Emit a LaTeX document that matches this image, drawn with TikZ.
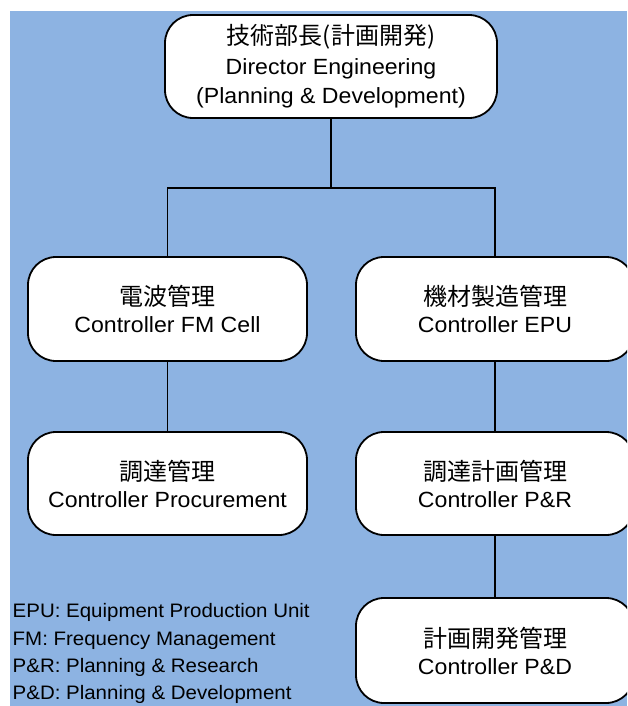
\documentclass[tikz,border=0pt]{standalone}
\usepackage{fontspec}
\setmainfont{Liberation Sans}[FakeStretch=1.05]
\newfontfamily\jp{Noto Sans CJK JP}
\newcommand{\jtext}[1]{{\jp\fontsize{24}{27}\selectfont #1}}
\definecolor{bgblue}{RGB}{141,179,226}
\begin{document}
\begin{tikzpicture}[x=1pt,y=-1pt,
  box/.style={draw=black, line width=1.8pt, fill=white, rounded corners=28pt,
    inner sep=0pt, align=center, font=\fontsize{22}{27}\selectfont},
  link/.style={draw=black, line width=1.4pt},
  legend/.style={inner sep=0pt, align=left, font=\fontsize{19.5}{27.3}\selectfont}]
\useasboundingbox (0,0) rectangle (627,706);
\fill[white] (0,0) rectangle (627,706);
\begin{scope}
\clip (10,11) rectangle (627,706);
\fill[bgblue] (10,11) rectangle (627,706);
% boxes
\node[box, minimum width=332pt, minimum height=103pt, font=\fontsize{22}{29.5}\selectfont] (top) at (331,66.5)
  {\jtext{技術部長(計画開発)}\\Director Engineering\\(Planning \& Development)};
\node[box, minimum width=279pt, minimum height=104pt] (l1) at (167.5,309)
  {\jtext{電波管理}\\Controller FM Cell};
\node[box, minimum width=278pt, minimum height=104pt] (r1) at (495,309)
  {\jtext{機材製造管理}\\Controller EPU};
\node[box, minimum width=279pt, minimum height=103pt] (l2) at (167.5,483.5)
  {\jtext{調達管理}\\Controller Procurement};
\node[box, minimum width=278pt, minimum height=103pt] (r2) at (495,483.5)
  {\jtext{調達計画管理}\\Controller P\&R};
\node[box, minimum width=278pt, minimum height=105pt] (r3) at (495,650.5)
  {\jtext{計画開発管理}\\Controller P\&D};
% connectors
\coordinate (bus) at (331,188);
\draw[link] (top.south) -- (bus);
\draw[link] (l1.north) |- (bus) -| (r1.north);
\draw[link] (l1.south) -- (l2.north);
\draw[link] (r1.south) -- (r2.north);
\draw[link] (r2.south) -- (r3.north);
% legend
\node[legend, anchor=south west] (leg) at (12.5,704)
  {EPU: Equipment Production Unit\\FM: Frequency Management\\P\&R: Planning \& Research\\P\&D: Planning \& Development};
\end{scope}
\end{tikzpicture}
\end{document}
